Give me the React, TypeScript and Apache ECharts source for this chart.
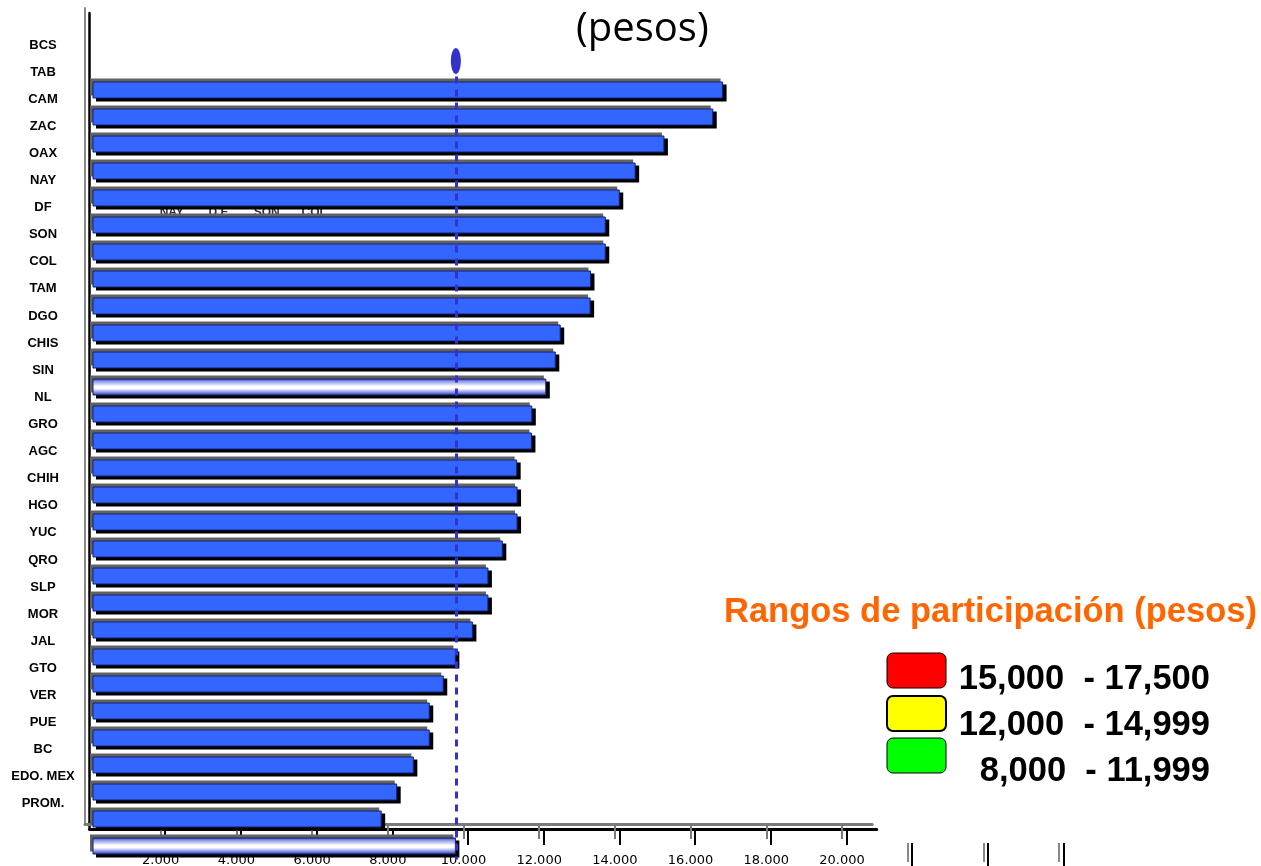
import React, { useEffect, useRef } from 'react';
import * as echarts from 'echarts';

const states = ['BCS', 'TAB', 'CAM', 'ZAC', 'OAX', 'NAY', 'DF', 'SON', 'COL', 'TAM', 'DGO', 'CHIS', 'SIN', 'NL', 'GRO', 'AGC', 'CHIH', 'HGO', 'YUC', 'QRO', 'SLP', 'MOR', 'JAL', 'GTO', 'VER', 'PUE', 'BC', 'EDO. MEX', 'PROM.'];
const values = [16660, 16400, 15110, 14350, 13930, 13560, 13560, 13170, 13160, 12370, 12240, 11990, 11620, 11610, 11220, 11230, 11230, 10840, 10460, 10460, 10050, 9600, 9280, 8910, 8910, 8490, 8050, 7640, 9600];
const highlighted = ['CHIS', 'PROM.'];
const xTicks = [2000, 4000, 6000, 8000, 10000, 12000, 14000, 16000, 18000, 20000];
const strayTicks = [22000, 24000, 26000];
const overlapLabels = ['NAY', 'D.F.', 'SON', 'COL'];
const rangeLabels = ['15,000  - 17,500', '12,000  - 14,999', '8,000  - 11,999'];
const rangeColors = ['#FF0000', '#FFFF00', '#00FF00'];
const chartTitle = '(pesos)';
const rangeTitle = 'Rangos de participación (pesos)';

const PX = 37.85; // pixels per 1000

const fmt = (v: number) => String(v).replace(/\B(?=(\d{3})+(?!\d))/g, '.');

export default function App() {
  const ref = useRef<HTMLDivElement>(null);
  useEffect(() => {
    if (!ref.current) return;
    const chart = echarts.init(ref.current, null, { renderer: 'svg' });
    const avg = values[states.indexOf('PROM.')];
    const barW = 17;
    const barH = 783;
    const barWidthPx = 20 * PX;
    const frameW = 20.8 * PX;

    const hidden = { show: false };
    const catY = (gridIndex: number) => ({
      type: 'category', gridIndex, data: states, inverse: true, show: false,
    });
    const valX = (gridIndex: number, max: number) => ({
      type: 'value', gridIndex, min: 0, max, show: false,
    });

    const grad = new echarts.graphic.LinearGradient(0, 0, 0, 1, [
      { offset: 0, color: '#3a48c8' },
      { offset: 0.15, color: '#8f9ae6' },
      { offset: 0.45, color: '#ffffff' },
      { offset: 0.6, color: '#ffffff' },
      { offset: 0.85, color: '#7d88e0' },
      { offset: 1, color: '#3040c0' },
    ]);

    const frameX = (gridIndex: number, color: string, tickLen: number, labels: boolean) => ({
      type: 'value', gridIndex, min: 0, max: 20800,
      axisLine: { show: true, onZero: false, lineStyle: { color, width: 3 } },
      axisTick: { show: true, customValues: xTicks, length: tickLen, inside: false, lineStyle: { color, width: 2 } },
      axisLabel: labels
        ? { show: true, customValues: xTicks, margin: 29, formatter: (v: number) => fmt(v), fontFamily: 'DejaVu Sans', fontSize: 13, color: '#000' }
        : { show: false },
      splitLine: hidden,
    });
    const frameY = (gridIndex: number, color: string, w: number) => ({
      type: 'value', gridIndex, min: 0, max: 1,
      axisLine: { show: true, onZero: false, lineStyle: { color, width: w } },
      axisTick: hidden, axisLabel: hidden, splitLine: hidden,
    });
    const strayX = (gridIndex: number, color: string, len: number) => ({
      type: 'value', gridIndex, min: 0, max: 26000,
      axisLine: { show: false },
      axisTick: { show: true, customValues: strayTicks, length: len, inside: false, lineStyle: { color, width: 2 } },
      axisLabel: hidden, splitLine: hidden,
    });

    const option: any = {
      animation: false,
      title: [
        { text: chartTitle, left: 576, top: 5, padding: 0, textStyle: { fontFamily: 'Open Sans', fontSize: 40, fontWeight: 'normal', color: '#000' } },
        { text: rangeTitle, left: 724, top: 592, padding: 0, textStyle: { fontFamily: 'Liberation Sans', fontSize: 34.5, fontWeight: 'bold', color: '#FF6600' } },
      ],
      grid: [
        { left: 80, top: 30.5, width: 10, height: 786 }, // 0 labels
        { left: 90, top: 73.5, width: barWidthPx, height: barH }, // 1 gray bars
        { left: 96, top: 79.5, width: barWidthPx, height: barH }, // 2 black bars
        { left: 92.5, top: 76.5, width: barWidthPx, height: barH }, // 3 blue bars
        { left: 85, top: 8, width: frameW, height: 816 }, // 4 gray frame
        { left: 89.5, top: 13, width: frameW, height: 816 }, // 5 black frame
        { left: 75, top: 800, width: 26 * PX, height: 43 }, // 6 stray gray ticks
        { left: 79.3, top: 800, width: 26 * PX, height: 43 }, // 7 stray black ticks
        { left: 148, top: 195, width: 190, height: 5 }, // 8 overlapping labels
      ],
      xAxis: [
        valX(0, 20000),
        valX(1, 20000),
        valX(2, 20000),
        valX(3, 20000),
        frameX(4, '#7a7a7a', 15, true),
        frameX(5, '#000', 16, false),
        strayX(6, '#888', 19),
        strayX(7, '#000', 23),
        {
          type: 'category', gridIndex: 8, data: overlapLabels, position: 'bottom',
          axisLine: hidden, axisTick: hidden, splitLine: hidden,
          axisLabel: { margin: 6, fontFamily: 'Liberation Sans', fontWeight: 'bold', fontSize: 12, color: '#333' },
        },
      ],
      yAxis: [
        {
          type: 'category', gridIndex: 0, data: states, inverse: true,
          axisLine: hidden, axisTick: hidden, splitLine: hidden,
          axisLabel: { align: 'center', margin: 37, fontFamily: 'Liberation Sans', fontWeight: 'bold', fontSize: 13, color: '#000' },
        },
        catY(1),
        catY(2),
        catY(3),
        frameY(4, '#8a8a8a', 2),
        frameY(5, '#000', 2.5),
        { type: 'value', gridIndex: 6, show: false },
        { type: 'value', gridIndex: 7, show: false },
        { type: 'value', gridIndex: 8, show: false },
      ],
      series: [
        {
          type: 'bar', xAxisIndex: 1, yAxisIndex: 1, data: values, barWidth: barW, z: 1,
          itemStyle: { color: '#626262' },
        },
        {
          type: 'bar', xAxisIndex: 2, yAxisIndex: 2, data: values, barWidth: barW, z: 1,
          itemStyle: { color: '#000' },
        },
        {
          type: 'bar', xAxisIndex: 3, yAxisIndex: 3, barWidth: barW, z: 3,
          data: values.map((v, i) =>
            highlighted.includes(states[i]) ? { value: v, itemStyle: { color: grad } } : v
          ),
          itemStyle: { color: '#3366FF', borderColor: '#14206e', borderWidth: 1 },
          markLine: {
            silent: true, symbol: ['none', 'none'], z: 5,
            label: { show: false },
            lineStyle: { color: '#3333CC', width: 3, type: [7, 6] },
            data: [{ xAxis: avg }],
          },
        },
        {
          type: 'scatter', xAxisIndex: 3, yAxisIndex: 3, z: 6,
          data: [[avg, states[0]]],
          symbol: 'circle', symbolSize: [10, 26], symbolOffset: [0, -29],
          itemStyle: { color: '#3333CC', opacity: 1 },
        },
      ],
      graphic: rangeLabels.flatMap((lbl, i) => {
        const boxY = [653, 696, 738][i];
        const txtY = [677, 723, 769][i];
        return [
          {
            type: 'rect', shape: { x: 887, y: boxY, width: 59, height: 35, r: 6 },
            style: { fill: rangeColors[i], stroke: '#000', lineWidth: i === 1 ? 2 : 1 },
          },
          {
            type: 'text', x: 1210, y: txtY,
            style: {
              text: lbl, align: 'right', verticalAlign: 'middle',
              font: 'bold 34.5px "Liberation Sans", Arial, sans-serif', fill: '#000',
            },
          },
        ];
      }),
    };
    chart.setOption(option);
    return () => chart.dispose();
  }, []);
  return <div ref={ref} style={{ position: 'fixed', left: 0, top: 0, width: 1261, height: 866 }} />;
}
